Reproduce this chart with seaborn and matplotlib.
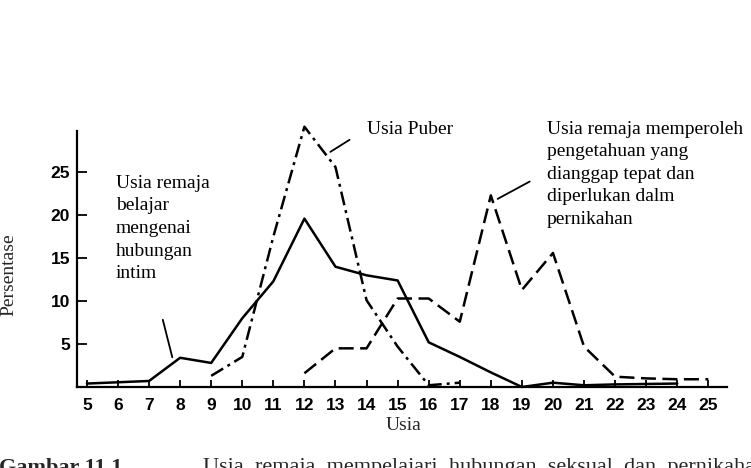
import matplotlib
matplotlib.use("Agg")
import matplotlib.pyplot as plt
import seaborn as sns
import pandas as pd

# === Data ===
usia_intim = [5, 6, 7, 8, 9, 10, 11, 12, 13, 14, 15, 16, 17, 18, 19, 20, 21, 22, 23, 24]
persen_intim = [0.4, 0.55, 0.7, 3.4, 2.8, 8.0, 12.3, 19.6, 14.0, 13.0, 12.4, 5.2, 3.5, 1.7, 0.0, 0.5, 0.2, 0.3, 0.35, 0.4]

usia_puber = [9, 10, 11, 12, 13, 14, 15, 16, 17]
persen_puber = [1.3, 3.5, 17.5, 30.3, 25.6, 10.1, 4.7, 0.2, 0.5]

usia_nikah = [12, 13, 14, 15, 16, 17, 18, 19, 20, 21, 22, 23, 24, 25]
persen_nikah = [1.6, 4.5, 4.5, 10.3, 10.3, 7.6, 22.3, 11.3, 15.6, 4.7, 1.2, 1.0, 0.9, 0.9]

x_ticks = list(range(5, 26))
y_ticks = [5, 10, 15, 20, 25]

df_intim = pd.DataFrame({"Usia": usia_intim, "Persentase": persen_intim})
df_puber = pd.DataFrame({"Usia": usia_puber, "Persentase": persen_puber})
df_nikah = pd.DataFrame({"Usia": usia_nikah, "Persentase": persen_nikah})

# === Style ===
sns.set_style("ticks")
serif = ["Liberation Serif", "DejaVu Serif"]
narrow = ["Liberation Sans Narrow", "Liberation Sans", "DejaVu Sans"]

fig = plt.figure(figsize=(7.51, 4.68), dpi=100)
ax = fig.add_axes([0.1025, 0.1731, 0.8655, 0.547])

lw = 1.8
sns.lineplot(data=df_intim, x="Usia", y="Persentase", ax=ax, color="black",
             linewidth=lw, clip_on=False)
sns.lineplot(data=df_puber, x="Usia", y="Persentase", ax=ax, color="black",
             linewidth=lw, linestyle=(0, (5.6, 2.0, 1.2, 2.0)), clip_on=False)
sns.lineplot(data=df_nikah, x="Usia", y="Persentase", ax=ax, color="black",
             linewidth=lw, linestyle=(0, (6.0, 2.6)), clip_on=False)

ax.set_xlim(4.68, 25.6)
ax.set_ylim(0, 29.8)
ax.set_xticks(x_ticks)
ax.set_yticks(y_ticks)
ax.set_xticklabels([str(t) for t in x_ticks], family=narrow, fontweight="bold", fontsize=12.5)
ax.set_yticklabels([str(t) for t in y_ticks], family=narrow, fontweight="bold", fontsize=12.5)
ax.tick_params(axis="x", direction="in", length=5, width=1.3, pad=8, colors="black")
ax.tick_params(axis="y", direction="in", length=7, width=1.3, pad=5, colors="black")
sns.despine(ax=ax)
for s in ["left", "bottom"]:
    ax.spines[s].set_linewidth(1.6)
    ax.spines[s].set_color("black")

ax.set_xlabel("")
ax.set_ylabel("")

# === Annotations ===
txt = dict(family=serif, fontsize=14, color="black", linespacing=1.43)
ax.text(5.93, 24.7, "Usia remaja\nbelajar\nmengenai\nhubungan\nintim", ha="left", va="top", **txt)
ax.annotate("", xy=(7.77, 3.14), xytext=(7.42, 8.14),
            arrowprops=dict(arrowstyle="-", color="black", lw=1.3), annotation_clip=False)

ax.text(14.02, 29.5, "Usia Puber", ha="left", va="baseline", clip_on=False, **txt)
ax.annotate("", xy=(12.76, 27.2), xytext=(13.53, 28.95),
            arrowprops=dict(arrowstyle="-", color="black", lw=1.3), annotation_clip=False)

ax.text(19.81, 31.0, "Usia remaja memperoleh\npengetahuan yang\ndianggap tepat dan\ndiperlukan dalm\npernikahan",
        ha="left", va="top", clip_on=False, **txt)
ax.annotate("", xy=(18.14, 21.74), xytext=(19.33, 24.07),
            arrowprops=dict(arrowstyle="-", color="black", lw=1.3), annotation_clip=False)

# axis titles
fig.text(404 / 751, 1 - 425 / 468, "Usia", ha="center", va="center",
         family=serif, fontsize=14)
fig.text(9 / 751, 1 - 275 / 468, "Persentase", ha="center", va="center",
         rotation=90, family=serif, fontsize=14)

# figure caption, cut off at the bottom edge as in the scan
fig.text(-1 / 751, 1 - 458 / 468, "Gambar 11.1", ha="left", va="top",
         family=serif, fontsize=16, fontweight="bold")
fig.text(203 / 751, 1 - 458 / 468, "Usia  remaja  mempelajari  hubungan  seksual  dan  pernikahan",
         ha="left", va="top", family=serif, fontsize=16)

fig.savefig("out.png", dpi=100)
plt.close(fig)
